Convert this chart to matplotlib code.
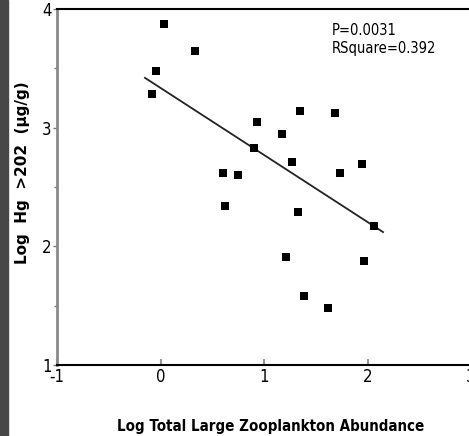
import matplotlib
matplotlib.use("Agg")
import matplotlib.pyplot as plt
from matplotlib.patches import Rectangle
from matplotlib.ticker import MultipleLocator
import numpy as np

# data
log_zoo = [0.03, -0.04, -0.08, 0.33, 0.60, 0.75, 0.62, 0.93, 0.90, 1.17, 1.35,
           1.69, 1.27, 1.95, 1.73, 1.33, 2.06, 1.21, 1.97, 1.39, 1.62]
log_hg = [3.87, 3.48, 3.28, 3.65, 2.62, 2.60, 2.34, 3.05, 2.83, 2.95, 3.14,
          3.12, 2.71, 2.69, 2.62, 2.29, 2.17, 1.91, 1.88, 1.58, 1.48]
fit_x = [-0.15, 2.15]
fit_slope = -0.565
fit_intercept = 3.335
x_ticks = [-1, 0, 1, 2, 3]
y_ticks = [1, 2, 3, 4]
annot = "P=0.0031\nRSquare=0.392"

narrow = dict(fontfamily="DejaVu Sans", fontstretch="condensed")

fig = plt.figure(figsize=(4.69, 4.36), dpi=100)
fig.patches.append(Rectangle((0, 0), 8 / 469, 1, transform=fig.transFigure,
                             color="#474747", zorder=0))

ax = fig.add_axes([57 / 469, (436 - 365) / 436, (471 - 57) / 469, (365 - 9) / 436])
ax.set_xlim(-1, 3)
ax.set_ylim(1, 4)

ax.scatter(log_zoo, log_hg, marker="s", s=28, color="black", linewidths=0, zorder=3)
fx = np.array(fit_x)
ax.plot(fx, fit_intercept + fit_slope * fx, color="#222222", lw=1.3)

ax.spines["right"].set_visible(False)
ax.spines["top"].set_color("black")
ax.spines["top"].set_linewidth(1.5)
ax.spines["bottom"].set_color("black")
ax.spines["bottom"].set_linewidth(1.5)
ax.spines["left"].set_color("#8a8a8a")
ax.spines["left"].set_linewidth(2)

ax.set_xticks(x_ticks)
ax.set_yticks(y_ticks)
ax.set_xticklabels([str(v) for v in x_ticks], fontsize=12, **narrow)
ax.set_yticklabels([str(v) for v in y_ticks], fontsize=12, **narrow)
ax.yaxis.set_minor_locator(MultipleLocator(0.5))
ax.tick_params(axis="x", direction="in", length=4, width=1.5, color="#999999", pad=2)
ax.tick_params(axis="y", which="major", direction="out", length=3, width=1, color="#777777", pad=1)
ax.tick_params(axis="y", which="minor", direction="out", length=2, width=1, color="#777777")

ax.set_xlabel("Log Total Large Zooplankton Abundance", fontsize=10.8,
              fontweight="bold", **narrow)
ax.xaxis.set_label_coords((271 - 57) / 414, -(426 - 365) / 356)
ax.xaxis.label.set_va("center")
ax.set_ylabel("Log  Hg  >202  (µg/g)", fontfamily="DejaVu Sans", fontsize=11,
              fontweight="bold")
ax.yaxis.set_label_coords(-(57 - 23) / 414, (365 - 173) / 356)
ax.yaxis.label.set_va("center")

ax.text(1.657, 3.88, annot, fontsize=10.5, va="top", ha="left",
        linespacing=1.25, **narrow)

fig.savefig("out.png", dpi=100)
